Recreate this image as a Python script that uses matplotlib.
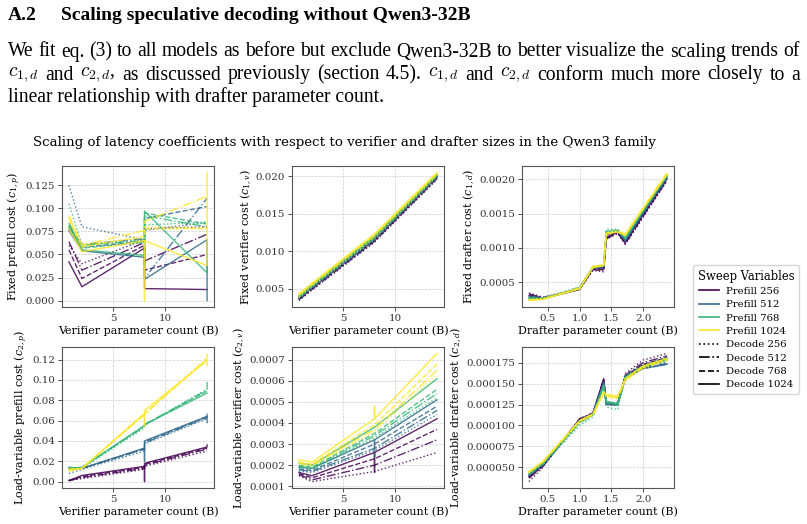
import matplotlib
matplotlib.use("Agg")
import matplotlib.pyplot as plt
from matplotlib.lines import Line2D
from matplotlib.ticker import MultipleLocator, FormatStrFormatter

plt.rcParams['font.family'] = 'serif'
plt.rcParams['font.serif'] = ['DejaVu Serif']
plt.rcParams['mathtext.fontset'] = 'dejavuserif'

W, H = 807, 524

PREFILLS = [256, 512, 768, 1024]
DECODES = [256, 512, 768, 1024]
PREFILL_COLORS = ['#440154', '#31688e', '#35b779', '#fde725']
DECODE_STYLES = [':', '-.', '--', '-']

# verifier sizes (B); repeated x values are several drafters at the same verifier
VERIFIER_X_C1P = [0.75, 2.0, 8.0, 8.0, 8.0, 14.0, 14.0]
VERIFIER_X_C1V = [0.75, 2.0, 8.0, 14.0]
VERIFIER_X_C2P = [0.75, 2.0, 8.0, 8.0, 8.0, 14.0, 14.0]
VERIFIER_X_C2V = [0.75, 2.0, 8.0, 8.0, 8.0, 14.0]
DRAFTER_X = [0.2, 0.42, 1.0, 1.21, 1.38, 1.42, 1.6, 1.72, 2.0, 2.38]

# keyed by (prefill, decode)
C1P = {
    (256, 256): [0.060, 0.040, 0.066, 0.078, 0.078, 0.080, 0.080],
    (256, 512): [0.064, 0.033, 0.063, 0.043, 0.043, 0.072, 0.072],
    (256, 768): [0.055, 0.024, 0.060, 0.033, 0.033, 0.050, 0.050],
    (256, 1024): [0.042, 0.015, 0.057, 0.013, 0.013, 0.012, 0.012],
    (512, 256): [0.125, 0.080, 0.066, 0.076, 0.076, 0.085, 0.085],
    (512, 512): [0.080, 0.061, 0.067, 0.024, 0.024, 0.111, 0.111],
    (512, 768): [0.078, 0.058, 0.064, 0.089, 0.089, 0.102, 0.102],
    (512, 1024): [0.076, 0.054, 0.047, 0.023, 0.023, 0.066, 0.000],
    (768, 256): [0.105, 0.060, 0.066, 0.082, 0.082, 0.085, 0.085],
    (768, 512): [0.084, 0.060, 0.065, 0.092, 0.092, 0.080, 0.080],
    (768, 768): [0.082, 0.057, 0.063, 0.095, 0.095, 0.083, 0.083],
    (768, 1024): [0.080, 0.055, 0.049, 0.097, 0.097, 0.030, 0.038],
    (1024, 256): [0.090, 0.061, 0.068, 0.080, 0.080, 0.079, 0.079],
    (1024, 512): [0.092, 0.060, 0.076, 0.086, 0.086, 0.113, 0.113],
    (1024, 768): [0.088, 0.058, 0.070, 0.078, 0.078, 0.078, 0.078],
    (1024, 1024): [0.078, 0.053, 0.065, 0.000, 0.065, 0.038, 0.139],
}

C1V = {
    (256, 256): [0.0034, 0.0048, 0.0112, 0.0196],
    (256, 512): [0.0035, 0.0049, 0.0113, 0.0197],
    (256, 768): [0.0036, 0.0050, 0.0114, 0.0198],
    (256, 1024): [0.0037, 0.0051, 0.0115, 0.0199],
    (512, 256): [0.0036, 0.0050, 0.0114, 0.0198],
    (512, 512): [0.0037, 0.0051, 0.0116, 0.0199],
    (512, 768): [0.0038, 0.0052, 0.0117, 0.0200],
    (512, 1024): [0.0039, 0.0053, 0.0118, 0.0201],
    (768, 256): [0.0037, 0.0051, 0.0115, 0.0199],
    (768, 512): [0.0039, 0.0053, 0.0118, 0.0201],
    (768, 768): [0.0040, 0.0054, 0.0119, 0.0202],
    (768, 1024): [0.0041, 0.0055, 0.0120, 0.0202],
    (1024, 256): [0.0039, 0.0053, 0.0118, 0.0201],
    (1024, 512): [0.0041, 0.0055, 0.0121, 0.0203],
    (1024, 768): [0.0042, 0.0056, 0.0122, 0.0204],
    (1024, 1024): [0.0043, 0.0057, 0.0123, 0.0205],
}

C1D = {
    (256, 256): [0.00034, 0.00028, 0.00040, 0.00067, 0.00065, 0.00112, 0.00121, 0.00105, 0.00144, 0.00198],
    (256, 512): [0.00033, 0.00027, 0.00040, 0.00068, 0.00067, 0.00113, 0.00122, 0.00106, 0.00146, 0.00199],
    (256, 768): [0.00031, 0.00027, 0.00040, 0.00069, 0.00068, 0.00114, 0.00123, 0.00107, 0.00147, 0.00200],
    (256, 1024): [0.00030, 0.00026, 0.00039, 0.00070, 0.00069, 0.00115, 0.00124, 0.00108, 0.00148, 0.00201],
    (512, 256): [0.00030, 0.00027, 0.00041, 0.00070, 0.00071, 0.00118, 0.00125, 0.00109, 0.00149, 0.00201],
    (512, 512): [0.00029, 0.00026, 0.00041, 0.00071, 0.00071, 0.00119, 0.00125, 0.00110, 0.00150, 0.00202],
    (512, 768): [0.00028, 0.00026, 0.00041, 0.00071, 0.00072, 0.00119, 0.00125, 0.00111, 0.00151, 0.00203],
    (512, 1024): [0.00027, 0.00026, 0.00040, 0.00071, 0.00072, 0.00120, 0.00124, 0.00111, 0.00151, 0.00203],
    (768, 256): [0.00028, 0.00027, 0.00043, 0.00073, 0.00074, 0.00127, 0.00127, 0.00113, 0.00153, 0.00204],
    (768, 512): [0.00027, 0.00026, 0.00042, 0.00072, 0.00074, 0.00124, 0.00126, 0.00114, 0.00154, 0.00205],
    (768, 768): [0.00026, 0.00026, 0.00042, 0.00072, 0.00075, 0.00123, 0.00126, 0.00114, 0.00154, 0.00205],
    (768, 1024): [0.00025, 0.00025, 0.00041, 0.00071, 0.00074, 0.00122, 0.00125, 0.00115, 0.00155, 0.00206],
    (1024, 256): [0.00025, 0.00026, 0.00042, 0.00073, 0.00076, 0.00122, 0.00125, 0.00121, 0.00159, 0.00210],
    (1024, 512): [0.00024, 0.00025, 0.00041, 0.00072, 0.00075, 0.00121, 0.00124, 0.00120, 0.00158, 0.00209],
    (1024, 768): [0.00024, 0.00025, 0.00041, 0.00072, 0.00075, 0.00121, 0.00124, 0.00119, 0.00157, 0.00208],
    (1024, 1024): [0.00023, 0.00025, 0.00040, 0.00071, 0.00074, 0.00120, 0.00123, 0.00118, 0.00156, 0.00207],
}

C2P = {
    (256, 256): [0.001, 0.003, 0.012, 0.012, 0.015, 0.030, 0.030],
    (256, 512): [0.001, 0.004, 0.013, 0.013, 0.016, 0.032, 0.032],
    (256, 768): [0.001, 0.005, 0.014, 0.014, 0.017, 0.033, 0.033],
    (256, 1024): [0.001, 0.006, 0.015, 0.000, 0.018, 0.034, 0.036],
    (512, 256): [0.008, 0.012, 0.030, 0.030, 0.037, 0.062, 0.062],
    (512, 512): [0.012, 0.013, 0.032, 0.032, 0.038, 0.063, 0.067],
    (512, 768): [0.013, 0.013, 0.032, 0.032, 0.039, 0.064, 0.064],
    (512, 1024): [0.014, 0.013, 0.033, 0.020, 0.040, 0.064, 0.058],
    (768, 256): [0.011, 0.013, 0.053, 0.053, 0.055, 0.091, 0.091],
    (768, 512): [0.012, 0.014, 0.054, 0.054, 0.056, 0.090, 0.098],
    (768, 768): [0.013, 0.014, 0.055, 0.055, 0.056, 0.089, 0.089],
    (768, 1024): [0.013, 0.014, 0.055, 0.055, 0.056, 0.087, 0.087],
    (1024, 256): [0.010, 0.013, 0.066, 0.066, 0.066, 0.122, 0.122],
    (1024, 512): [0.011, 0.013, 0.066, 0.066, 0.066, 0.121, 0.126],
    (1024, 768): [0.012, 0.013, 0.067, 0.067, 0.067, 0.120, 0.120],
    (1024, 1024): [0.012, 0.013, 0.067, 0.055, 0.070, 0.119, 0.114],
}

C2V = {
    (256, 256): [0.000150, 0.000122, 0.000170, 0.000170, 0.000170, 0.000260],
    (256, 512): [0.000155, 0.000130, 0.000200, 0.000200, 0.000200, 0.000320],
    (256, 768): [0.000160, 0.000140, 0.000230, 0.000230, 0.000230, 0.000370],
    (256, 1024): [0.000165, 0.000150, 0.000260, 0.000165, 0.000260, 0.000420],
    (512, 256): [0.000172, 0.000165, 0.000270, 0.000270, 0.000270, 0.000440],
    (512, 512): [0.000178, 0.000170, 0.000280, 0.000280, 0.000280, 0.000460],
    (512, 768): [0.000182, 0.000175, 0.000300, 0.000300, 0.000300, 0.000480],
    (512, 1024): [0.000190, 0.000185, 0.000320, 0.000240, 0.000320, 0.000510],
    (768, 256): [0.000190, 0.000180, 0.000330, 0.000330, 0.000330, 0.000520],
    (768, 512): [0.000195, 0.000185, 0.000340, 0.000340, 0.000340, 0.000540],
    (768, 768): [0.000200, 0.000190, 0.000350, 0.000350, 0.000350, 0.000560],
    (768, 1024): [0.000210, 0.000200, 0.000380, 0.000380, 0.000380, 0.000610],
    (1024, 256): [0.000205, 0.000195, 0.000360, 0.000360, 0.000360, 0.000630],
    (1024, 512): [0.000210, 0.000200, 0.000370, 0.000370, 0.000370, 0.000650],
    (1024, 768): [0.000215, 0.000205, 0.000390, 0.000390, 0.000390, 0.000680],
    (1024, 1024): [0.000225, 0.000215, 0.000420, 0.000480, 0.000420, 0.000730],
}

C2D = {
    (256, 256): [0.000033, 0.000050, 0.000108, 0.000115, 0.000154, 0.000127, 0.000126, 0.000162, 0.000178, 0.000186],
    (256, 512): [0.000037, 0.000051, 0.000108, 0.000115, 0.000155, 0.000127, 0.000126, 0.000160, 0.000175, 0.000183],
    (256, 768): [0.000038, 0.000052, 0.000107, 0.000114, 0.000154, 0.000126, 0.000125, 0.000159, 0.000173, 0.000181],
    (256, 1024): [0.000039, 0.000052, 0.000107, 0.000114, 0.000156, 0.000126, 0.000125, 0.000158, 0.000172, 0.000180],
    (512, 256): [0.000040, 0.000052, 0.000104, 0.000113, 0.000150, 0.000128, 0.000127, 0.000158, 0.000170, 0.000176],
    (512, 512): [0.000040, 0.000053, 0.000106, 0.000114, 0.000152, 0.000126, 0.000125, 0.000157, 0.000169, 0.000174],
    (512, 768): [0.000041, 0.000053, 0.000106, 0.000114, 0.000151, 0.000126, 0.000124, 0.000156, 0.000168, 0.000173],
    (512, 1024): [0.000041, 0.000054, 0.000106, 0.000114, 0.000150, 0.000125, 0.000124, 0.000156, 0.000168, 0.000173],
    (768, 256): [0.000042, 0.000053, 0.000100, 0.000110, 0.000146, 0.000122, 0.000119, 0.000160, 0.000172, 0.000182],
    (768, 512): [0.000042, 0.000054, 0.000103, 0.000112, 0.000148, 0.000127, 0.000124, 0.000158, 0.000171, 0.000180],
    (768, 768): [0.000043, 0.000054, 0.000104, 0.000113, 0.000147, 0.000128, 0.000125, 0.000157, 0.000171, 0.000179],
    (768, 1024): [0.000043, 0.000055, 0.000105, 0.000113, 0.000148, 0.000129, 0.000126, 0.000157, 0.000170, 0.000178],
    (1024, 256): [0.000043, 0.000056, 0.000104, 0.000112, 0.000138, 0.000134, 0.000132, 0.000153, 0.000168, 0.000177],
    (1024, 512): [0.000044, 0.000056, 0.000105, 0.000113, 0.000139, 0.000135, 0.000133, 0.000154, 0.000169, 0.000178],
    (1024, 768): [0.000044, 0.000057, 0.000105, 0.000113, 0.000140, 0.000136, 0.000134, 0.000155, 0.000170, 0.000179],
    (1024, 1024): [0.000045, 0.000057, 0.000106, 0.000114, 0.000140, 0.000137, 0.000135, 0.000156, 0.000171, 0.000180],
}

PANELS = [
    # (data, x, ylabel, xlabel, y step, y fmt, x step, (left, top) px)
    (C1P, VERIFIER_X_C1P, r'Fixed prefill cost ($c_{1,p}$)', 'Verifier parameter count (B)',
     0.025, '%.3f', 5, (62, 166)),
    (C1V, VERIFIER_X_C1V, r'Fixed verifier cost ($c_{1,v}$)', 'Verifier parameter count (B)',
     0.005, '%.3f', 5, (292, 166)),
    (C1D, DRAFTER_X, r'Fixed drafter cost ($c_{1,d}$)', 'Drafter parameter count (B)',
     0.0005, '%.4f', 0.5, (522, 166)),
    (C2P, VERIFIER_X_C2P, r'Load-variable prefill cost ($c_{2,p}$)', 'Verifier parameter count (B)',
     0.02, '%.2f', 5, (62, 347)),
    (C2V, VERIFIER_X_C2V, r'Load-variable verifier cost ($c_{2,v}$)', 'Verifier parameter count (B)',
     0.0001, '%.4f', 5, (292, 347)),
    (C2D, DRAFTER_X, r'Load-variable drafter cost ($c_{2,d}$)', 'Drafter parameter count (B)',
     0.000025, '%.6f', 0.5, (522, 347)),
]

fig = plt.figure(figsize=(W / 100, H / 100), dpi=100)
renderer = fig.canvas.get_renderer()

# paper text above the figure
paper = dict(family='Liberation Serif', color='black', math_fontfamily='cm', va='center')
PARA_SIZE = 14.1


def justified(line, y, x0=8, x1=800):
    """Place the words of one line so it fills x0..x1 like the typeset page."""
    words = [fig.text(x0 / W, 1 - y / H, w, fontsize=PARA_SIZE, **paper) for w in line.split(' ')]
    widths = [t.get_window_extent(renderer).width for t in words]
    gap = (x1 - x0 - sum(widths)) / (len(words) - 1)
    x = x0
    for t, w in zip(words, widths):
        t.set_x(x / W)
        x += w + gap


fig.text(8 / W, 1 - 15 / H, 'A.2', fontsize=14.0, fontweight='bold', **paper)
fig.text(61 / W, 1 - 15 / H, 'Scaling speculative decoding without Qwen3-32B',
         fontsize=14.0, fontweight='bold', **paper)
justified('We fit eq. (3) to all models as before but exclude Qwen3-32B to better visualize the scaling trends of', 52)
justified(r'$c_{1,d}$ and $c_{2,d}$, as discussed previously (section 4.5). $c_{1,d}$ and $c_{2,d}$ conform much more closely to a', 75)
fig.text(8 / W, 1 - 97 / H, 'linear relationship with drafter parameter count.', fontsize=PARA_SIZE, **paper)

fig.text(344 / W, 1 - 142 / H,
         'Scaling of latency coefficients with respect to verifier and drafter sizes in the Qwen3 family',
         fontsize=9.6, ha='center', va='center')

for data, xs, ylab, xlab, ystep, yfmt, xstep, (left, top) in PANELS:
    ax = fig.add_axes([left / W, 1 - (top + 141) / H, 152 / W, 141 / H])
    for pi, p in enumerate(PREFILLS):
        for di, d in enumerate(DECODES):
            ax.plot(xs, data[(p, d)], color=PREFILL_COLORS[pi], linestyle=DECODE_STYLES[di],
                    linewidth=1.0, alpha=0.85)
    ax.yaxis.set_major_locator(MultipleLocator(ystep))
    ax.yaxis.set_major_formatter(FormatStrFormatter(yfmt))
    ax.xaxis.set_major_locator(MultipleLocator(xstep))
    if xstep == 0.5:
        ax.xaxis.set_major_formatter(FormatStrFormatter('%.1f'))
    ax.grid(True, linestyle='--', linewidth=0.5, color='#cccccc')
    ax.set_axisbelow(True)
    ax.tick_params(labelsize=7.4, length=3, width=0.6, colors='#333333', pad=2)
    for s in ax.spines.values():
        s.set_color('#555555')
        s.set_linewidth(0.8)
    ax.set_ylabel(ylab, fontsize=8.0, labelpad=1.5)
    ax.set_xlabel(xlab, fontsize=8.0, labelpad=1.5)

handles = [Line2D([0], [0], color=c, lw=1.2) for c in PREFILL_COLORS]
handles += [Line2D([0], [0], color='black', lw=1.2, linestyle=s) for s in DECODE_STYLES]
labels = ['Prefill %d' % p for p in PREFILLS] + ['Decode %d' % d for d in DECODES]
leg = fig.legend(handles, labels, title='Sweep Variables', loc='upper left',
                 bbox_to_anchor=(693 / W, 1 - 265 / H), fontsize=7.3, title_fontsize=8.3,
                 frameon=True, handlelength=2.0, borderpad=0.45, labelspacing=0.42,
                 handletextpad=0.7, borderaxespad=0)
leg.get_frame().set_edgecolor('#cccccc')

fig.savefig('out.png', dpi=100)
